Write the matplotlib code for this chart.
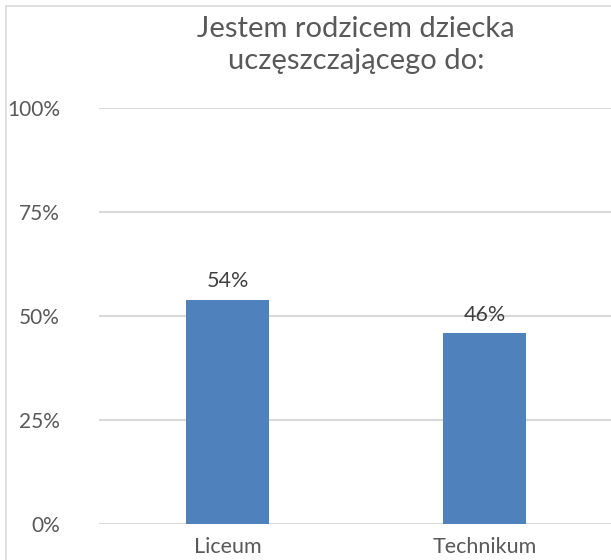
import matplotlib
matplotlib.use("Agg")
import matplotlib.pyplot as plt
from matplotlib.lines import Line2D

categories = ["Liceum", "Technikum"]
values = [54, 46]
yticks = [0, 25, 50, 75, 100]
title = "Jestem rodzicem dziecka\nuczęszczającego do:"

plt.rcParams['font.family'] = ['Lato', 'DejaVu Sans']

fig = plt.figure(figsize=(6.11, 5.6), dpi=100)
ax = fig.add_axes([99 / 611, 35.7 / 560, 514 / 611, 416 / 560])

x = range(len(categories))
bars = ax.bar(x, values, width=0.32, color="#4F81BD", zorder=3)
for b, v in zip(bars, values):
    ax.text(b.get_x() + b.get_width() / 2, v + 2, f"{v}%", ha="center", va="bottom",
            fontsize=15.5, color="#404040")

ax.set_xlim(-0.5, 1.5)
ax.set_ylim(0, 100)
ax.set_yticks(yticks)
ax.set_yticklabels([f"{t}%" for t in yticks])
ax.set_xticks(list(x))
ax.set_xticklabels(categories)
ax.tick_params(axis="both", length=0, labelcolor="#595959")
ax.tick_params(axis="y", pad=28, labelsize=15)
ax.tick_params(axis="x", pad=9, labelsize=15.5)
ax.grid(axis="y", color="#D9D9D9", linewidth=1.5, zorder=0)
ax.set_axisbelow(True)
for s in ax.spines.values():
    s.set_visible(False)

fig.text(356 / 611, 1 - 45 / 560, title, ha="center", va="center", fontsize=21,
         color="#595959", linespacing=1.3)

# chart area border (top and left visible)
fig.add_artist(Line2D([5.5 / 611, 5.5 / 611], [0, 1 - 5.5 / 560], color="#D9D9D9", linewidth=1.2))
fig.add_artist(Line2D([5.5 / 611, 1], [1 - 5.5 / 560, 1 - 5.5 / 560], color="#D9D9D9", linewidth=1.2))

fig.savefig("out.png", dpi=100)
